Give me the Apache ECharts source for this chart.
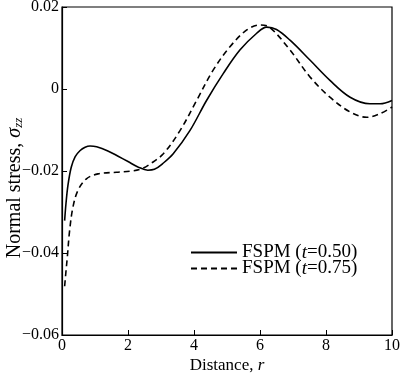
<!DOCTYPE html>
<html><head><meta charset="utf-8">
<script src="https://cdn.jsdelivr.net/npm/echarts@6/dist/echarts.min.js"></script>
<style>html,body{margin:0;padding:0;background:#fff}#c{width:400px;height:377px}</style>
</head><body><div id="c"></div>
<script>
var seriesNames = ['FSPM (t=0.50)', 'FSPM (t=0.75)'];
var rSolid = [0.08,0.12,0.18,0.28,0.4,0.55,0.7,0.85,1.05,1.39,1.7,2.0,2.3,2.6,2.8,3.05,3.37,3.88,4.38,4.89,5.39,5.9,6.2,6.5,6.91,7.52,8.12,8.73,9.33,9.64,10.0];
var vSolid = [-0.0321,-0.028,-0.0235,-0.0191,-0.0165,-0.0150,-0.0142,-0.0139,-0.0141,-0.0151,-0.0164,-0.0177,-0.0190,-0.0198,-0.0196,-0.0182,-0.0158,-0.0101,-0.0028,0.0038,0.0095,0.0136,0.0151,0.0145,0.0119,0.0070,0.0021,-0.0020,-0.0036,-0.0036,-0.0028];
var rDash = [0.08,0.12,0.16,0.23,0.33,0.48,0.74,1.09,1.65,2.1,2.4,2.67,3.07,3.58,4.08,4.58,5.09,5.6,6.0,6.3,6.91,7.52,8.12,8.73,9.23,9.64,10.0];
var vDash = [-0.0481,-0.0445,-0.0411,-0.0346,-0.0289,-0.0248,-0.0219,-0.0207,-0.0203,-0.0200,-0.0195,-0.0183,-0.0158,-0.0101,-0.0028,0.0046,0.0103,0.0144,0.0156,0.0150,0.0095,0.0029,-0.0020,-0.0056,-0.0069,-0.0060,-0.0044];
var xTicks = [0,2,4,6,8,10];
var yTicks = [-0.06,-0.04,-0.02,0,0.02];

function pairs(xs, ys){ return xs.map(function(x,i){ return [x, ys[i]]; }); }
var font = 'Liberation Serif';
var chart = echarts.init(document.getElementById('c'), null, {renderer:'canvas'});
function legendFmt(name){ var m = name.match(/^(.*\()t(=.*)$/); return m[1] + '{i|t}' + m[2]; }
var legendText = {fontFamily: font, fontSize: 19, color: '#000', rich: {i: {fontFamily: font, fontSize: 19, fontStyle: 'italic', color:'#000'}}};
var legendCommon = {itemWidth: 46, itemHeight: 14, itemGap: 0, padding: 0, formatter: legendFmt, textStyle: legendText,
  itemStyle: {color: 'rgba(0,0,0,0)', borderWidth: 0, opacity: 0}};
chart.setOption({
  animation: false,
  backgroundColor: '#fff',
  grid: {left: 62, right: 8, top: 7, bottom: 42, show: true, borderColor: '#000', borderWidth: 1.2, outerBoundsMode: 'none', containLabel: false},
  legend: [
    Object.assign({data: [seriesNames[0]], left: 190, top: 243}, legendCommon),
    Object.assign({data: [seriesNames[1]], left: 190, top: 259}, legendCommon)
  ],
  xAxis: {
    type: 'value', min: 0, max: 10, interval: 2,
    name: 'Distance, {i|r}', nameLocation: 'middle', nameGap: 22, nameMoveOverlap: false,
    nameTextStyle: {fontFamily: font, fontSize: 17, color: '#000', verticalAlign: 'top', rich: {i: {fontFamily: font, fontSize: 17, fontStyle: 'italic', color:'#000'}}},
    axisLine: {onZero: false, lineStyle: {color: '#000', width: 1.2}},
    axisTick: {inside: true, length: 5, lineStyle: {color: '#000'}},
    splitLine: {show: false},
    axisLabel: {fontFamily: font, fontSize: 16, color: '#000', margin: 3, formatter: function(v){ return xTicks.indexOf(v) >= 0 ? String(v) : ''; }}
  },
  yAxis: {
    type: 'value', min: -0.06, max: 0.02, interval: 0.02,
    name: 'Normal stress, {s|σ}{sub|zz}', nameLocation: 'middle', nameGap: 47, nameMoveOverlap: false,
    nameTextStyle: {fontFamily: font, fontSize: 20, color: '#000', verticalAlign: 'middle', padding: [0, 34, 0, 0], rich: {s: {fontFamily: font, fontSize: 20, fontStyle: 'italic', color:'#000'}, sub: {fontFamily: font, fontSize: 13, fontStyle: 'italic', color:'#000', verticalAlign: 'bottom', padding: [8,0,0,0]}}},
    axisLine: {onZero: false, lineStyle: {color: '#000', width: 1.2}},
    axisTick: {inside: true, length: 5, lineStyle: {color: '#000'}},
    splitLine: {show: false},
    axisLabel: {fontFamily: font, fontSize: 16, color: '#000', margin: 3, formatter: function(v){
      var t = yTicks.filter(function(y){ return Math.abs(y - v) < 1e-9; });
      if (!t.length) return '';
      if (Math.abs(v) < 1e-9) return '0';
      return (v < 0 ? '\u2212' : '') + Math.abs(v).toFixed(2);
    }}
  },
  series: [
    {name: seriesNames[0], type: 'line', smooth: 0.35, symbol: 'none', data: pairs(rSolid, vSolid), lineStyle: {color: '#000', width: 1.6, type: 'solid'}, itemStyle: {color: '#000'}},
    {name: seriesNames[1], type: 'line', smooth: 0.35, symbol: 'none', data: pairs(rDash, vDash), lineStyle: {color: '#000', width: 1.6, type: [6, 4]}, itemStyle: {color: '#000'}}
  ]
});
</script></body></html>
